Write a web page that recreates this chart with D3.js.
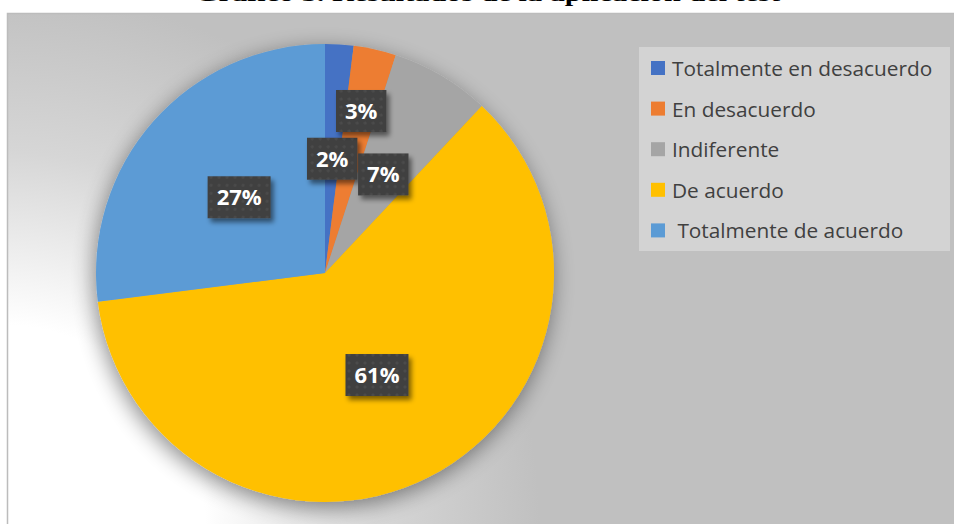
<!DOCTYPE html>
<html>
<head>
<meta charset="utf-8">
<script src="https://cdn.jsdelivr.net/npm/d3@7"></script>
<style>
  body { margin: 0; background: #fff; }
  svg { display: block; }
</style>
</head>
<body>
<div id="chart"></div>
<script>

// data
var categories = ["Totalmente en desacuerdo", "En desacuerdo", "Indiferente", "De acuerdo", " Totalmente de acuerdo"];
var values = [2, 3, 7, 61, 27];
var colors = ["#4472C4", "#ED7D31", "#A5A5A5", "#FFC000", "#5B9BD5"];
var title = "Gráfico 3. Resultados de la aplicación del test";

var width = 954, height = 524;
var cx = 325, cy = 273, radius = 229;
// the small slice label is pushed outward by the layout
var labelRadius = {"En desacuerdo": 166};

var svg = d3.select("#chart")
            .append("svg")
            .attr("width", width)
            .attr("height", height);

var defs = svg.append("defs");

var bg = defs.append("radialGradient")
             .attr("id", "bgGrad")
             .attr("gradientUnits", "userSpaceOnUse")
             .attr("cx", 0).attr("cy", 530).attr("r", 540);
bg.append("stop").attr("offset", 0.38).attr("stop-color", "#ffffff");
bg.append("stop").attr("offset", 0.7).attr("stop-color", "#d6d6d6");
bg.append("stop").attr("offset", 1).attr("stop-color", "#c0c0c0");

var pieShadow = defs.append("filter")
                    .attr("id", "pieShadow")
                    .attr("x", "-20%").attr("y", "-20%")
                    .attr("width", "140%").attr("height", "140%");
pieShadow.append("feGaussianBlur").attr("in", "SourceAlpha").attr("stdDeviation", 11);
pieShadow.append("feOffset").attr("dx", -2).attr("dy", 6).attr("result", "off");
pieShadow.append("feComponentTransfer").append("feFuncA").attr("type", "linear").attr("slope", 0.45);
var m1 = pieShadow.append("feMerge");
m1.append("feMergeNode");
m1.append("feMergeNode").attr("in", "SourceGraphic");

var boxShadow = defs.append("filter")
                    .attr("id", "boxShadow")
                    .attr("x", "-30%").attr("y", "-30%")
                    .attr("width", "170%").attr("height", "170%");
boxShadow.append("feGaussianBlur").attr("in", "SourceAlpha").attr("stdDeviation", 2.5);
boxShadow.append("feOffset").attr("dx", 3).attr("dy", 4).attr("result", "off");
boxShadow.append("feComponentTransfer").append("feFuncA").attr("type", "linear").attr("slope", 0.5);
var m2 = boxShadow.append("feMerge");
m2.append("feMergeNode");
m2.append("feMergeNode").attr("in", "SourceGraphic");

var dots = defs.append("pattern")
               .attr("id", "dots")
               .attr("patternUnits", "userSpaceOnUse")
               .attr("width", 8).attr("height", 8);
dots.append("rect").attr("width", 8).attr("height", 8).attr("fill", "#404040");
dots.append("circle").attr("cx", 4).attr("cy", 4).attr("r", 1.6).attr("fill", "#4b4b4b");

// title (mostly clipped above the chart, as in the source page)
svg.append("text")
   .attr("x", 195)
   .attr("y", 1)
   .attr("textLength", 585)
   .attr("lengthAdjust", "spacingAndGlyphs")
   .attr("font-family", "'Liberation Serif', 'Times New Roman', serif")
   .attr("font-weight", "bold")
   .attr("font-size", 21)
   .style("fill", "#000")
   .text(title);

// chart area
svg.append("rect")
   .attr("x", 7.5).attr("y", 13.5)
   .attr("width", width).attr("height", height)
   .style("fill", "url(#bgGrad)")
   .style("stroke", "#bcbcbc")
   .style("stroke-width", 1.5);

var pie = d3.pie().sort(null).value(function(d){ return d; });
var arcs = pie(values);
var arc = d3.arc().innerRadius(0).outerRadius(radius);

var pieG = svg.append("g")
              .attr("transform", "translate(" + cx + "," + cy + ")");

pieG.append("g")
    .attr("filter", "url(#pieShadow)")
    .selectAll("path")
    .data(arcs)
    .enter()
    .append("path")
    .attr("d", arc)
    .style("fill", function(d, i){
      return colors[i];
    });

// data labels
var labels = pieG.selectAll("g.label")
                 .data(arcs)
                 .enter()
                 .append("g")
                 .attr("class", "label")
                 .attr("transform", function(d, i){
                   var r = labelRadius[categories[i]];
                   var c;
                   if(r){
                     c = d3.arc().innerRadius(r).outerRadius(r).centroid(d);
                   }else{
                     c = arc.centroid(d);
                   }
                   return "translate(" + c[0] + "," + c[1] + ")";
                 });

labels.append("text")
      .attr("class", "lbl")
      .attr("text-anchor", "middle")
      .attr("y", 8)
      .attr("font-family", "'Open Sans', sans-serif")
      .attr("font-weight", "bold")
      .attr("font-size", 22)
      .style("fill", "#fff")
      .text(function(d){
        return d.value + "%";
      });

labels.each(function(){
  var g = d3.select(this);
  var w = g.select("text").node().getComputedTextLength() + 18;
  g.insert("rect", "text")
   .attr("x", -w / 2)
   .attr("y", -21)
   .attr("width", w)
   .attr("height", 42)
   .attr("filter", "url(#boxShadow)")
   .style("fill", "url(#dots)");
});

// legend
var legend = svg.append("g");

legend.append("rect")
      .attr("x", 639).attr("y", 47)
      .attr("width", 311).attr("height", 204)
      .style("fill", "#d3d3d3");

legend.selectAll("rect.key")
      .data(categories)
      .enter()
      .append("rect")
      .attr("class", "key")
      .attr("x", 651)
      .attr("y", function(d, i){
        return 61 + 40.6 * i;
      })
      .attr("width", 14)
      .attr("height", 14)
      .style("fill", function(d, i){
        return colors[i];
      });

legend.selectAll("text")
      .data(categories)
      .enter()
      .append("text")
      .attr("x", 672)
      .attr("y", function(d, i){
        return 76 + 40.6 * i;
      })
      .attr("font-family", "'Open Sans', sans-serif")
      .attr("font-size", 20.8)
      .style("white-space", "pre")
      .style("fill", "#404040")
      .text(function(d){
        return d;
      });

</script>
</body>
</html>
